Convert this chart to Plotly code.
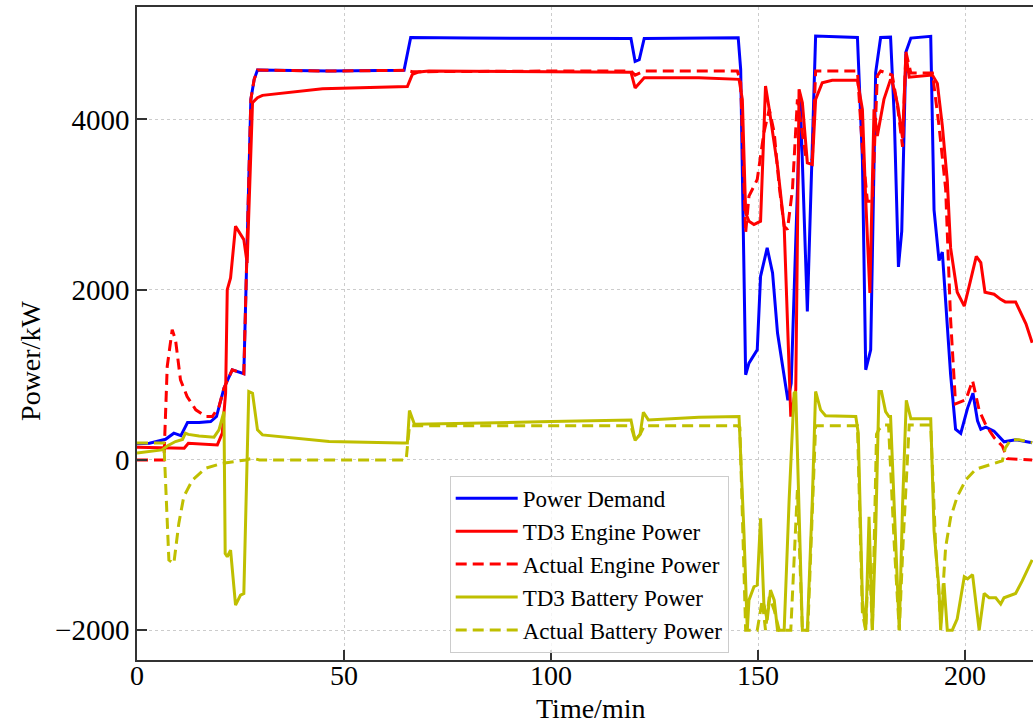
import plotly.graph_objects as go

# Power demand (kW) over time (min)
t_demand = [0, 3, 6.9, 8.9, 10.6, 12.2, 15.0, 17.8, 19.2, 21.0, 23.0, 25.8, 27.5, 28.3, 29.1,
            46.4, 64.5, 66.1, 80, 100, 119.3, 120.3, 121.3, 122.5, 135, 145.2, 145.8, 147.0,
            147.8, 149.8, 150.6, 152.2, 153.5, 154.7, 157.2, 158.0, 160.2, 161.9, 163.9, 174.0,
            175.2, 176.0, 177.2, 178.4, 179.6, 182.0, 182.9, 183.9, 184.7, 185.7, 186.9, 191.7,
            192.5, 193.7, 194.5, 195.3, 196.5, 197.7, 198.95, 200.6, 201.9, 203.0, 203.8, 205.0,
            207.0, 209.4, 212.2, 216.2]
p_demand = [190, 196, 243, 314, 286, 439, 439, 451, 510, 843, 1059, 1012, 4235, 4470, 4580,
            4568, 4576, 4961, 4955, 4950, 4950, 4680, 4700, 4950, 4960, 4960, 4588, 1000,
            1137, 1294, 2157, 2490, 2196, 1490, 700, 900, 4230, 1745, 4980, 4961,
            3529, 1059, 1294, 4549, 4961, 4966, 4025, 2267, 2688, 4792, 4955, 4975,
            2936, 2342, 2441, 1847, 1005, 361, 312, 609, 782, 460, 361, 386,
            337, 213, 238, 203]

# TD3 engine power
t_td3_eng = [0, 11.4, 12.4, 19.4, 20.6, 21.4, 21.8, 22.6, 23.8, 25.8, 26.6, 27.9, 29.1, 30.3,
             44.8, 65.3, 66.5, 68.1, 70.5, 100, 119.3, 120.3, 121.3, 122.5, 135.7, 145.4, 146.2,
             147.0, 147.8, 149.0, 150.6, 151.8, 152.7, 154.7, 156.3, 157.9, 159.1, 159.9, 160.7,
             161.9, 163.1, 163.9, 165.5, 167.9, 174.0, 175.2, 176.0, 177.0, 178.0, 178.8, 180.4,
             182.0, 182.4, 183.7, 184.9, 185.7, 186.5, 192.1, 193.3, 194.5, 195.7, 196.5, 198.1,
             199.8, 201.0, 202.7, 203.8, 204.8, 207.0, 208.6, 209.7, 212.2, 214.7, 216.2]
p_td3_eng = [150, 137, 196, 176, 314, 784, 2000, 2137, 2745, 2588, 2314, 4196, 4255, 4282,
             4361, 4385, 4529, 4557, 4568, 4560, 4555, 4370, 4430, 4490, 4490, 4470, 4235,
             2902, 2804, 2765, 2804, 4392, 4118, 3451, 2745, 509, 823, 4353, 4196,
             3490, 3470, 4235, 4431, 4459, 4459, 4118, 3059, 1961, 4118, 3804, 4235,
             4470, 4445, 4173, 3777, 4767, 4495, 4520, 4421, 3926, 3282, 2490, 1970,
             1807, 2045, 2391, 2317, 1970, 1946, 1886, 1856, 1856, 1599, 1376]

# Actual engine power
t_act_eng = [0, 6.5, 7.3, 8.5, 9.3, 10.5, 12.1, 14.2, 16.6, 18.2, 19.8, 21.0, 23.0, 25.8, 27.5,
             28.3, 29.1, 46.4, 65.0, 66.5, 100, 119.3, 120.3, 121.3, 122.5, 135.7, 145.0, 145.8,
             147.0, 147.8, 149.8, 151.4, 152.7, 153.9, 155.1, 156.3, 157.1, 158.3, 159.5, 161.5,
             163.1, 163.9, 174.0, 175.2, 176.4, 177.6, 178.8, 179.6, 182.4, 183.7, 184.9, 185.7,
             186.9, 192.1, 193.7, 195.3, 196.5, 197.7, 200.2, 201.8, 203.4, 205.0, 207.0, 209.0,
             210.2, 216.2]
p_act_eng = [0, 0, 1098, 1529, 1412, 941, 745, 588, 510, 510, 627, 843, 1059, 1012, 4235,
             4470, 4580, 4568, 4576, 4560, 4568, 4568, 4520, 4540, 4568, 4568, 4568, 4431,
             2667, 3098, 3294, 3843, 4118, 3843, 3216, 2745, 2706, 3176, 4235, 3568,
             3529, 4568, 4568, 3647, 3039, 3039, 4510, 4568, 4520, 4149, 3678, 4792,
             4545, 4545, 3926, 3183, 1649, 658, 708, 931, 584, 411, 262, 163,
             15, 0]

# TD3 battery power
t_td3_bat = [0, 3, 6, 7.5, 9.3, 11.0, 11.7, 12.4, 15, 18.6, 19.8, 21.0, 21.3, 21.8, 22.6, 23.8,
             25.0, 25.8, 27.0, 27.9, 29.1, 30.3, 46.4, 64.0, 65.3, 65.8, 67.0, 100, 119.3, 120.3,
             121.5, 122.3, 123.5, 135.7, 145.0, 145.4, 146.6, 147.4, 147.8, 149.0, 149.8, 150.6,
             151.4, 152.2, 153.0, 153.9, 154.7, 156.3, 157.5, 158.7, 159.1, 159.9, 160.7, 161.9,
             163.1, 163.9, 165.1, 166.3, 173.6, 174.2, 175.2, 176.0, 176.8, 177.6, 178.4, 179.2,
             179.8, 180.8, 181.6, 182.0, 182.9, 184.1, 184.9, 185.8, 186.9, 191.7, 192.5, 193.7,
             194.1, 194.9, 195.7, 196.9, 198.1, 199.8, 200.6, 201.8, 203.4, 204.6, 205.8, 207.4,
             208.6, 209.4, 212.2, 213.8, 216.2]
p_td3_bat = [80, 100, 118, 170, 216, 240, 314, 300, 280, 267, 353, 568, -1100, -1137, -1059, -1706,
             -1588, -1569, 804, 784, 353, 294, 216, 200, 200, 580, 420, 450, 470, 230,
             300, 560, 470, 500, 510, 510, -863, -2000, -1647, -1490, -1470, -686,
             -1686, -1882, -1529, -1647, -2000, -2000, -471, 784, 804, -471, -2000, -2000,
             -471, 804, 588, 518, 510, 314, -1647, -2000, -667, -2000, -863, 804,
             804, 568, 510, 510, -530, -2000, -530, 700, 485, 485, -827, -1520,
             -2000, -1446, -2000, -2000, -1866, -1371, -1396, -1347, -2000, -1569, -1619, -1619,
             -1693, -1619, -1569, -1421, -1173]

# Actual battery power
t_act_bat = [0, 6.5, 7.7, 8.9, 10.1, 11.3, 13.4, 16.6, 20.6, 26.3, 27.9, 29.6, 65.0, 65.8, 100,
             119.3, 120.3, 121.5, 122.5, 145.0, 145.6, 147.0, 149.8, 151.0, 151.8, 152.7, 153.9,
             155.1, 157.9, 159.5, 160.7, 162.0, 163.9, 174.0, 175.2, 176.0, 176.8, 177.6, 178.6,
             179.2, 180.4, 181.5, 182.9, 184.1, 185.0, 186.5, 191.7, 192.9, 194.1, 195.3, 196.5,
             198.1, 200.2, 202.6, 205.8, 209.0, 209.7, 211.0, 213.0, 216.2]
p_act_bat = [200, 200, -1176, -1216, -745, -431, -235, -98, -39, 0, 20, 0, 0, 400, 400,
             400, 230, 300, 400, 400, 380, -2000, -2000, -1647, -2000, -1608, -1765,
             -2000, -2000, -353, -2000, -2000, 400, 400, -1800, -2000, -1000, -2000, 300,
             360, 411, 411, -1000, -2000, -1000, 411, 411, -1025, -1916, -1025, -678,
             -431, -233, -109, -59, -10, 139, 238, 238, 203]

BLUE = "#0000ff"
RED = "#ff0000"
OLIVE = "#bfbf00"
FONT = "Liberation Serif"

series = [
    ("Power Demand", t_demand, p_demand, BLUE, "solid"),
    ("TD3 Engine Power", t_td3_eng, p_td3_eng, RED, "solid"),
    ("Actual Engine Power", t_act_eng, p_act_eng, RED, "11px,6px"),
    ("TD3 Battery Power", t_td3_bat, p_td3_bat, OLIVE, "solid"),
    ("Actual Battery Power", t_act_bat, p_act_bat, OLIVE, "11px,6px"),
]

fig = go.Figure()
for name, t, p, color, dash in series:
    fig.add_trace(go.Scatter(x=t, y=p, mode="lines", name=name,
                             line=dict(color=color, width=3, dash=dash)))

axis_common = dict(
    showline=True, linecolor="#333333", linewidth=1.5,
    ticks="inside", ticklen=10, tickwidth=1.5, tickcolor="#333333",
    showgrid=True, gridcolor="#cccccc", griddash="dot", gridwidth=1,
    zeroline=False,
)

fig.update_xaxes(range=[0, 216.4], tickvals=[0, 50, 100, 150, 200], mirror=True,
                 ticklabelstandoff=-10,
                 tickfont=dict(family=FONT, size=28, color="black"),
                 **axis_common)
fig.update_yaxes(range=[-2350, 5320], tickvals=[-2000, 0, 2000, 4000],
                 tickfont=dict(family=FONT, size=29, color="black"),
                 **axis_common)

title_font = dict(family=FONT, size=28, color="black")
fig.update_layout(
    width=1033, height=727,
    margin=dict(l=137, r=0, t=7, b=67),
    paper_bgcolor="white", plot_bgcolor="white",
    showlegend=True,
    legend=dict(x=0.349, y=0.282, xanchor="left", yanchor="top",
                itemwidth=62,
                bgcolor="rgba(255,255,255,0.8)", bordercolor="#cccccc", borderwidth=1,
                font=dict(family=FONT, size=23, color="black")),
    annotations=[
        dict(text="Time/min", xref="paper", yref="paper", x=0.5056, y=-0.0743,
             xanchor="center", yanchor="middle", showarrow=False, font=title_font),
        dict(text="Power/kW", xref="paper", yref="paper", x=-0.1183, y=0.458,
             xanchor="center", yanchor="middle", textangle=-90, showarrow=False,
             font=title_font),
    ],
)

fig.write_html("out.html")
